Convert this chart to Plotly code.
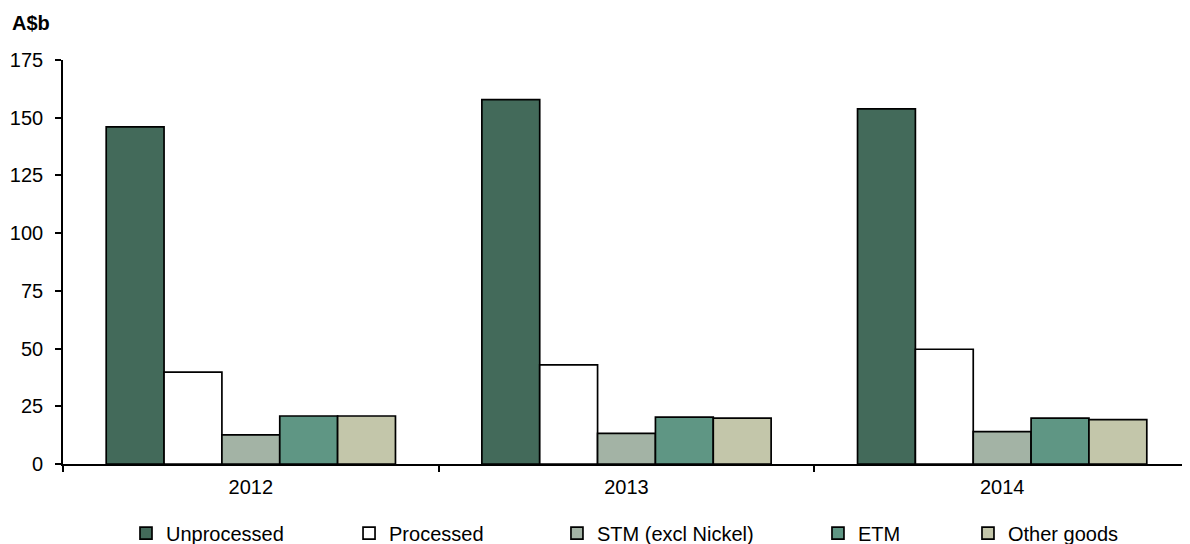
import plotly.graph_objects as go

years = ["2012", "2013", "2014"]
series_names = ["Unprocessed", "Processed", "STM (excl Nickel)", "ETM", "Other goods"]
unprocessed = [146.0, 157.8, 153.8]
processed = [39.8, 42.9, 49.7]
stm = [12.6, 13.3, 14.0]
etm = [20.8, 20.3, 19.9]
other_goods = [20.8, 19.9, 19.2]
y_ticks = [0, 25, 50, 75, 100, 125, 150, 175]

series_values = [unprocessed, processed, stm, etm, other_goods]
colors = ["#436A5A", "#FFFFFF", "#A3B3A5", "#5F9684", "#C3C6AA"]
# legend entry x positions (paper fraction) to mimic the original uneven spacing
legend_x = [0.0559, 0.2538, 0.4383, 0.6699, 0.8030]
legend_ids = ["legend", "legend2", "legend3", "legend4", "legend5"]

FONT = "Liberation Sans, Arial, sans-serif"
FS = 20

fig = go.Figure()
for name, vals, col, lid in zip(series_names, series_values, colors, legend_ids):
    fig.add_trace(go.Bar(
        x=years, y=vals, name=name, legend=lid,
        marker=dict(color=col, line=dict(color="#000000", width=1.7)),
    ))

legend_layout = {}
for lid, lx in zip(legend_ids, legend_x):
    legend_layout[lid] = dict(
        orientation="h", x=lx, xanchor="left", y=-0.1226, yanchor="top",
        font=dict(family=FONT, size=FS, color="#000000"),
        bgcolor="rgba(0,0,0,0)",
    )

# the page adds a small offset; margins are set to compensate
fig.update_layout(
    width=1190, height=544,
    barmode="group", bargap=0.23, bargroupgap=0,
    plot_bgcolor="#FFFFFF", paper_bgcolor="#FFFFFF",
    margin=dict(l=55, r=8, t=52, b=88, autoexpand=False),
    font=dict(family=FONT, size=FS, color="#000000"),
    showlegend=True,
    xaxis=dict(
        showline=True, linecolor="#000000", linewidth=1.6,
        ticks="outside", tickson="boundaries", ticklen=6, tickwidth=1.6, tickcolor="#000000",
        ticklabelstandoff=4,
        showgrid=False, zeroline=False, automargin=False,
    ),
    yaxis=dict(
        range=[0, 175], tickvals=y_ticks, ticktext=[str(v) for v in y_ticks],
        showline=True, linecolor="#000000", linewidth=1.6,
        ticks="outside", ticklen=6, tickwidth=1.6, tickcolor="#000000",
        ticklabelstandoff=8,
        showgrid=False, zeroline=False, automargin=False,
    ),
    annotations=[dict(
        text="<b>A$b</b>", xref="paper", yref="paper", x=-0.047, y=1.059,
        xanchor="left", yanchor="bottom", showarrow=False,
        font=dict(family=FONT, size=FS, color="#000000"),
    )],
    **legend_layout,
)

fig.write_html("out.html")
